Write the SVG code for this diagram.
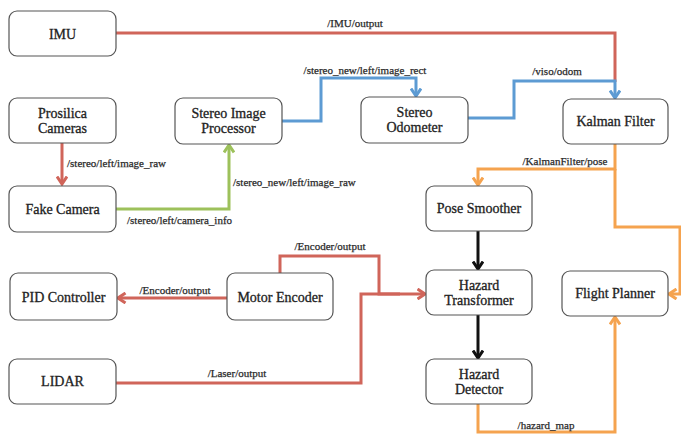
<svg xmlns="http://www.w3.org/2000/svg" width="681" height="434" viewBox="0 0 681 434">
<style>
.node rect{fill:#fff;stroke:#555;stroke-width:1.2}
.node text{font-family:"Liberation Serif","Times New Roman",serif;font-size:14px;fill:#222;stroke:#222;stroke-width:0.3;text-anchor:middle}
.lbl{font-family:"Liberation Serif","Times New Roman",serif;font-size:11px;fill:#2a2a2a;stroke:#2a2a2a;stroke-width:0.25}
.c{fill:none;stroke-width:3}
.red{stroke:#d0655a}
.blue{stroke:#5d9bd3}
.green{stroke:#9dc15b}
.orange{stroke:#f5a34f}
.black{stroke:#111}
</style>
<defs>
<marker id="aR" viewBox="0 0 10 12" refX="8.5" refY="6" markerWidth="10" markerHeight="12" markerUnits="userSpaceOnUse" orient="auto"><path d="M1,1 L8.5,6 L1,11" fill="none" stroke="#d0655a" stroke-width="3"/></marker>
<marker id="aB" viewBox="0 0 10 12" refX="8.5" refY="6" markerWidth="10" markerHeight="12" markerUnits="userSpaceOnUse" orient="auto"><path d="M1,1 L8.5,6 L1,11" fill="none" stroke="#5d9bd3" stroke-width="3"/></marker>
<marker id="aG" viewBox="0 0 10 12" refX="8.5" refY="6" markerWidth="10" markerHeight="12" markerUnits="userSpaceOnUse" orient="auto"><path d="M1,1 L8.5,6 L1,11" fill="none" stroke="#9dc15b" stroke-width="3"/></marker>
<marker id="aO" viewBox="0 0 10 12" refX="8.5" refY="6" markerWidth="10" markerHeight="12" markerUnits="userSpaceOnUse" orient="auto"><path d="M1,1 L8.5,6 L1,11" fill="none" stroke="#f5a34f" stroke-width="3"/></marker>
<marker id="aK" viewBox="0 0 10 12" refX="8.5" refY="6" markerWidth="10" markerHeight="12" markerUnits="userSpaceOnUse" orient="auto"><path d="M1,1 L8.5,6 L1,11" fill="none" stroke="#111" stroke-width="3"/></marker>
</defs>
<g id="connectors">
<path class="c red" d="M116,33 H615 V82"/>
<path class="c blue" d="M282,121 H321 V78 H416 V96" marker-end="url(#aB)"/>
<path class="c blue" d="M468,118 H514 V81 H615 V98" marker-end="url(#aB)"/>
<path class="c red" d="M62,143 V184" marker-end="url(#aR)"/>
<path class="c green" d="M116,209 H229 V145" marker-end="url(#aG)"/>
<path class="c orange" d="M615,144 V169 H478 V185" marker-end="url(#aO)"/>
<path class="c orange" d="M615,169 V227 H680 V294 H669" marker-end="url(#aO)"/>
<path class="c black" d="M478,231 V269" marker-end="url(#aK)"/>
<path class="c black" d="M478,315 V358" marker-end="url(#aK)"/>
<path class="c red" d="M227,298 H118" marker-end="url(#aR)"/>
<path class="c red" d="M280,273 V256 H379 V294 H425" marker-end="url(#aR)"/>
<path class="c red" d="M116,383 H361 V294 H400"/>
<path class="c orange" d="M478,404 V432 H615 V317" marker-end="url(#aO)"/>
<text class="lbl" x="355" y="27" text-anchor="middle">/IMU/output</text>
<text class="lbl" x="365" y="74" text-anchor="middle">/stereo_new/left/image_rect</text>
<text class="lbl" x="557" y="75" text-anchor="middle">/viso/odom</text>
<text class="lbl" x="67" y="167">/stereo/left/image_raw</text>
<text class="lbl" x="233" y="186">/stereo_new/left/image_raw</text>
<text class="lbl" x="127" y="224">/stereo/left/camera_info</text>
<text class="lbl" x="565" y="165" text-anchor="middle">/KalmanFilter/pose</text>
<text class="lbl" x="330" y="250" text-anchor="middle">/Encoder/output</text>
<text class="lbl" x="175" y="294" text-anchor="middle">/Encoder/output</text>
<text class="lbl" x="237" y="377" text-anchor="middle">/Laser/output</text>
<text class="lbl" x="546" y="429" text-anchor="middle">/hazard_map</text>
</g>
<g id="imu" class="node"><rect x="9" y="11" width="107" height="45" rx="8"/><text x="62.5" y="38.5">IMU</text></g>
<g id="prosilica" class="node"><rect x="9" y="98" width="107" height="45" rx="8"/><text x="62.5" y="118">Prosilica</text><text x="62.5" y="133">Cameras</text></g>
<g id="fake-camera" class="node"><rect x="9" y="186" width="107" height="46" rx="8"/><text x="62.5" y="214">Fake Camera</text></g>
<g id="pid" class="node"><rect x="10" y="273" width="107" height="47" rx="8"/><text x="63.5" y="302">PID Controller</text></g>
<g id="lidar" class="node"><rect x="9" y="359" width="107" height="45" rx="8"/><text x="62.5" y="386">LIDAR</text></g>
<g id="stereo-image-processor" class="node"><rect x="175" y="98" width="107" height="46" rx="8"/><text x="228.5" y="118">Stereo Image</text><text x="228.5" y="133">Processor</text></g>
<g id="motor-encoder" class="node"><rect x="227" y="273" width="106" height="47" rx="8"/><text x="280" y="302">Motor Encoder</text></g>
<g id="stereo-odometer" class="node"><rect x="361" y="97" width="107" height="46" rx="8"/><text x="414.5" y="117">Stereo</text><text x="414.5" y="132">Odometer</text></g>
<g id="kalman" class="node"><rect x="563" y="99" width="105" height="45" rx="8"/><text x="615.5" y="126">Kalman Filter</text></g>
<g id="pose-smoother" class="node"><rect x="426" y="186" width="106" height="45" rx="8"/><text x="479" y="213">Pose Smoother</text></g>
<g id="hazard-transformer" class="node"><rect x="426" y="270" width="106" height="45" rx="8"/><text x="479" y="290">Hazard</text><text x="479" y="305">Transformer</text></g>
<g id="flight-planner" class="node"><rect x="562" y="271" width="106" height="45" rx="8"/><text x="615" y="298">Flight Planner</text></g>
<g id="hazard-detector" class="node"><rect x="426" y="359" width="106" height="45" rx="8"/><text x="479" y="379">Hazard</text><text x="479" y="394">Detector</text></g>
</svg>
